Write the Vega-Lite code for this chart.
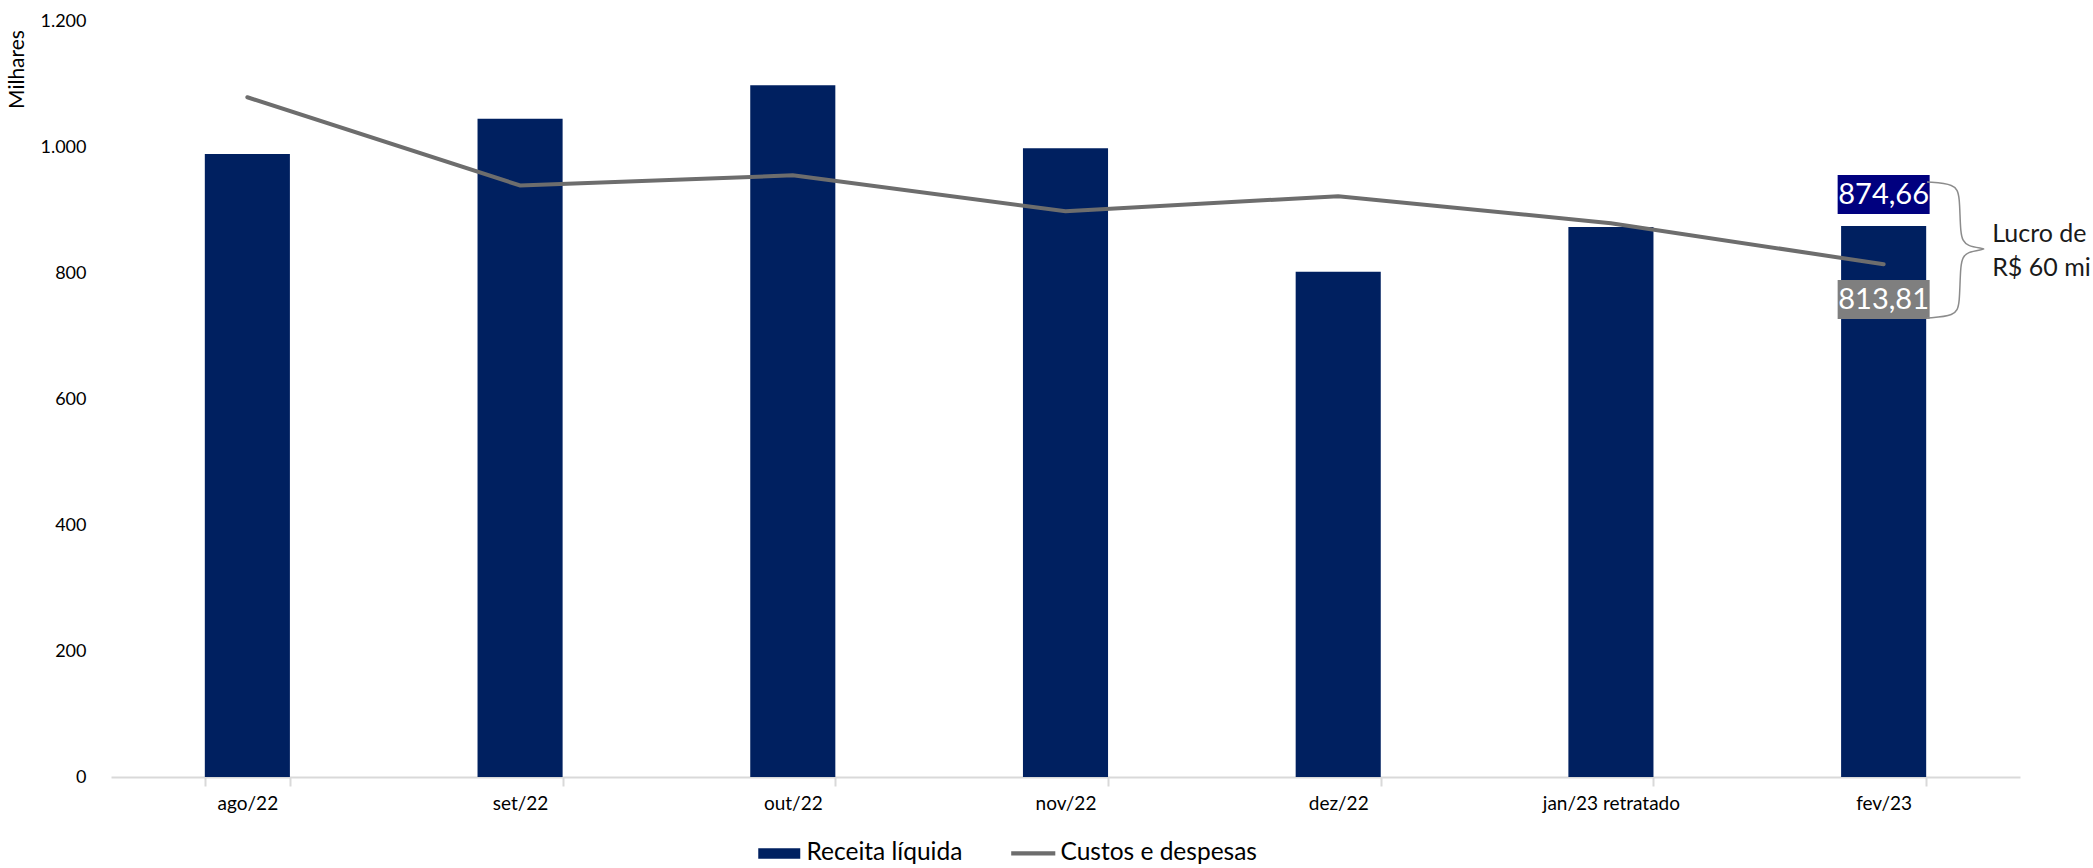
{
  "$schema": "https://vega.github.io/schema/vega-lite/v6.json",
  "width": 1909,
  "height": 756,
  "autosize": {"type": "none"},
  "padding": {"left": 111, "top": 21, "right": 73, "bottom": 91},
  "background": "white",
  "config": {"view": {"stroke": null}, "font": "Lato"},
  "datasets": {
    "meses": [
      {"mes": "ago/22", "receita": 989, "custos": 1079},
      {"mes": "set/22", "receita": 1045, "custos": 939},
      {"mes": "out/22", "receita": 1098, "custos": 955},
      {"mes": "nov/22", "receita": 998, "custos": 898},
      {"mes": "dez/22", "receita": 802, "custos": 922},
      {"mes": "jan/23 retratado", "receita": 873, "custos": 879},
      {"mes": "fev/23", "receita": 874.66, "custos": 813.81}
    ],
    "rotulos": [
      {"mes": "fev/23", "serie": "receita", "texto": "874,66", "topo": 955.6, "base": 893.7, "centro": 924.6},
      {"mes": "fev/23", "serie": "custos", "texto": "813,81", "topo": 788.9, "base": 727, "centro": 757.9}
    ],
    "chave": [
      {"ordem": 1, "bx": 6.659, "by": 944.4},
      {"ordem": 2, "bx": 6.762, "by": 941.3},
      {"ordem": 3, "bx": 6.78, "by": 923.8},
      {"ordem": 4, "bx": 6.78, "by": 860.3},
      {"ordem": 5, "bx": 6.799, "by": 841.3},
      {"ordem": 6, "bx": 6.901, "by": 838.1},
      {"ordem": 7, "bx": 6.799, "by": 834.9},
      {"ordem": 8, "bx": 6.78, "by": 815.9},
      {"ordem": 9, "bx": 6.78, "by": 749.2},
      {"ordem": 10, "bx": 6.762, "by": 731.7},
      {"ordem": 11, "bx": 6.659, "by": 728.6}
    ],
    "nota": [
      {"nx": 6.898, "ny": 862, "texto": "Lucro de"},
      {"nx": 6.898, "ny": 808, "texto": "R$ 60 mi"}
    ]
  },
  "layer": [
    {
      "layer": [
        {
          "data": {"name": "meses"},
          "mark": {"type": "bar"},
          "encoding": {
            "x": {
              "field": "mes", "type": "nominal", "sort": null,
              "scale": {"paddingInner": 0.688, "paddingOuter": 0.344},
              "axis": {
                "title": null, "labelAngle": 0, "labelFont": "Lato", "labelFontSize": 19, "labelColor": "#000000",
                "domainColor": "#d9d9d9", "domainWidth": 2, "tickColor": "#d9d9d9", "tickWidth": 2, "tickSize": 9,
                "tickBand": "extent", "labelPadding": 8, "grid": false
              }
            },
            "y": {
              "field": "receita", "type": "quantitative",
              "scale": {"domain": [0, 1200]},
              "axis": {
                "title": "Milhares", "values": [0, 200, 400, 600, 800, 1000, 1200],
                "labelExpr": "replace(format(datum.value, ','), ',', '.')",
                "labelFont": "Lato", "labelFontSize": 18, "labelColor": "#000000", "labelPadding": 25,
                "ticks": false, "domain": false, "grid": false,
                "titleFont": "Lato", "titleFontSize": 21, "titleFontWeight": "normal", "titleColor": "#000000",
                "titleX": -94, "titleY": 48, "titleAlign": "center", "titleBaseline": "middle", "titleAngle": -90
              }
            },
            "color": {
              "datum": "Receita líquida", "type": "nominal",
              "scale": {"domain": ["Receita líquida", "Custos e despesas"], "range": ["#002060", "#6d6d6d"]},
              "legend": {
                "orient": "none", "legendX": 656, "legendY": 820, "direction": "horizontal", "title": null,
                "padding": 0, "symbolType": "M-2,-0.5H2V0.5H-2Z", "symbolSize": 441, "symbolStrokeWidth": 0,
                "labelFont": "Lato", "labelFontSize": 24.5, "labelLimit": 500, "labelColor": "#000000", "labelOffset": 15, "columnPadding": 48,
                "encode": {
                  "symbols": {
                    "update": {
                      "shape": {"signal": "datum.value === 'Custos e despesas' ? 'M-2.1,-0.2H2.1V0.2H-2.1Z' : 'M-2,-0.5H2V0.5H-2Z'"},
                      "fill": {"signal": "datum.value === 'Custos e despesas' ? '#6d6d6d' : '#002060'"},
                      "strokeWidth": {"value": 0}
                    }
                  }
                }
              }
            }
          }
        },
        {
          "data": {"name": "meses"},
          "mark": {"type": "line", "strokeWidth": 4, "strokeCap": "round"},
          "encoding": {
            "x": {"field": "mes", "type": "nominal", "sort": null},
            "y": {"field": "custos", "type": "quantitative"},
            "color": {"datum": "Custos e despesas", "type": "nominal"}
          }
        },
        {
          "data": {"name": "rotulos"},
          "transform": [{"filter": "datum.serie === 'receita'"}],
          "mark": {"type": "bar", "width": 92, "color": "#00007f"},
          "encoding": {
            "x": {"field": "mes", "type": "nominal", "sort": null},
            "y": {"field": "topo", "type": "quantitative"},
            "y2": {"field": "base"}
          }
        },
        {
          "data": {"name": "rotulos"},
          "transform": [{"filter": "datum.serie === 'custos'"}],
          "mark": {"type": "bar", "width": 92, "color": "#7f7f7f"},
          "encoding": {
            "x": {"field": "mes", "type": "nominal", "sort": null},
            "y": {"field": "topo", "type": "quantitative"},
            "y2": {"field": "base"}
          }
        },
        {
          "data": {"name": "rotulos"},
          "mark": {"type": "text", "color": "#ffffff", "font": "Lato", "fontSize": 29, "baseline": "middle", "align": "center"},
          "encoding": {
            "x": {"field": "mes", "type": "nominal", "sort": null},
            "y": {"field": "centro", "type": "quantitative"},
            "text": {"field": "texto"}
          }
        }
      ]
    },
    {
      "layer": [
        {
          "data": {"name": "chave"},
          "mark": {"type": "line", "interpolate": "basis", "color": "#8c8c8c", "strokeWidth": 1.5},
          "encoding": {
            "x": {"field": "bx", "type": "quantitative", "scale": {"domain": [0, 7], "nice": false, "zero": false}, "axis": null},
            "y": {"field": "by", "type": "quantitative"},
            "order": {"field": "ordem"}
          }
        },
        {
          "data": {"name": "nota"},
          "mark": {"type": "text", "align": "left", "baseline": "middle", "font": "Lato", "fontSize": 25, "color": "#1a1a1a"},
          "encoding": {
            "x": {"field": "nx", "type": "quantitative"},
            "y": {"field": "ny", "type": "quantitative"},
            "text": {"field": "texto"}
          }
        }
      ]
    }
  ],
  "resolve": {"scale": {"x": "independent"}}
}
